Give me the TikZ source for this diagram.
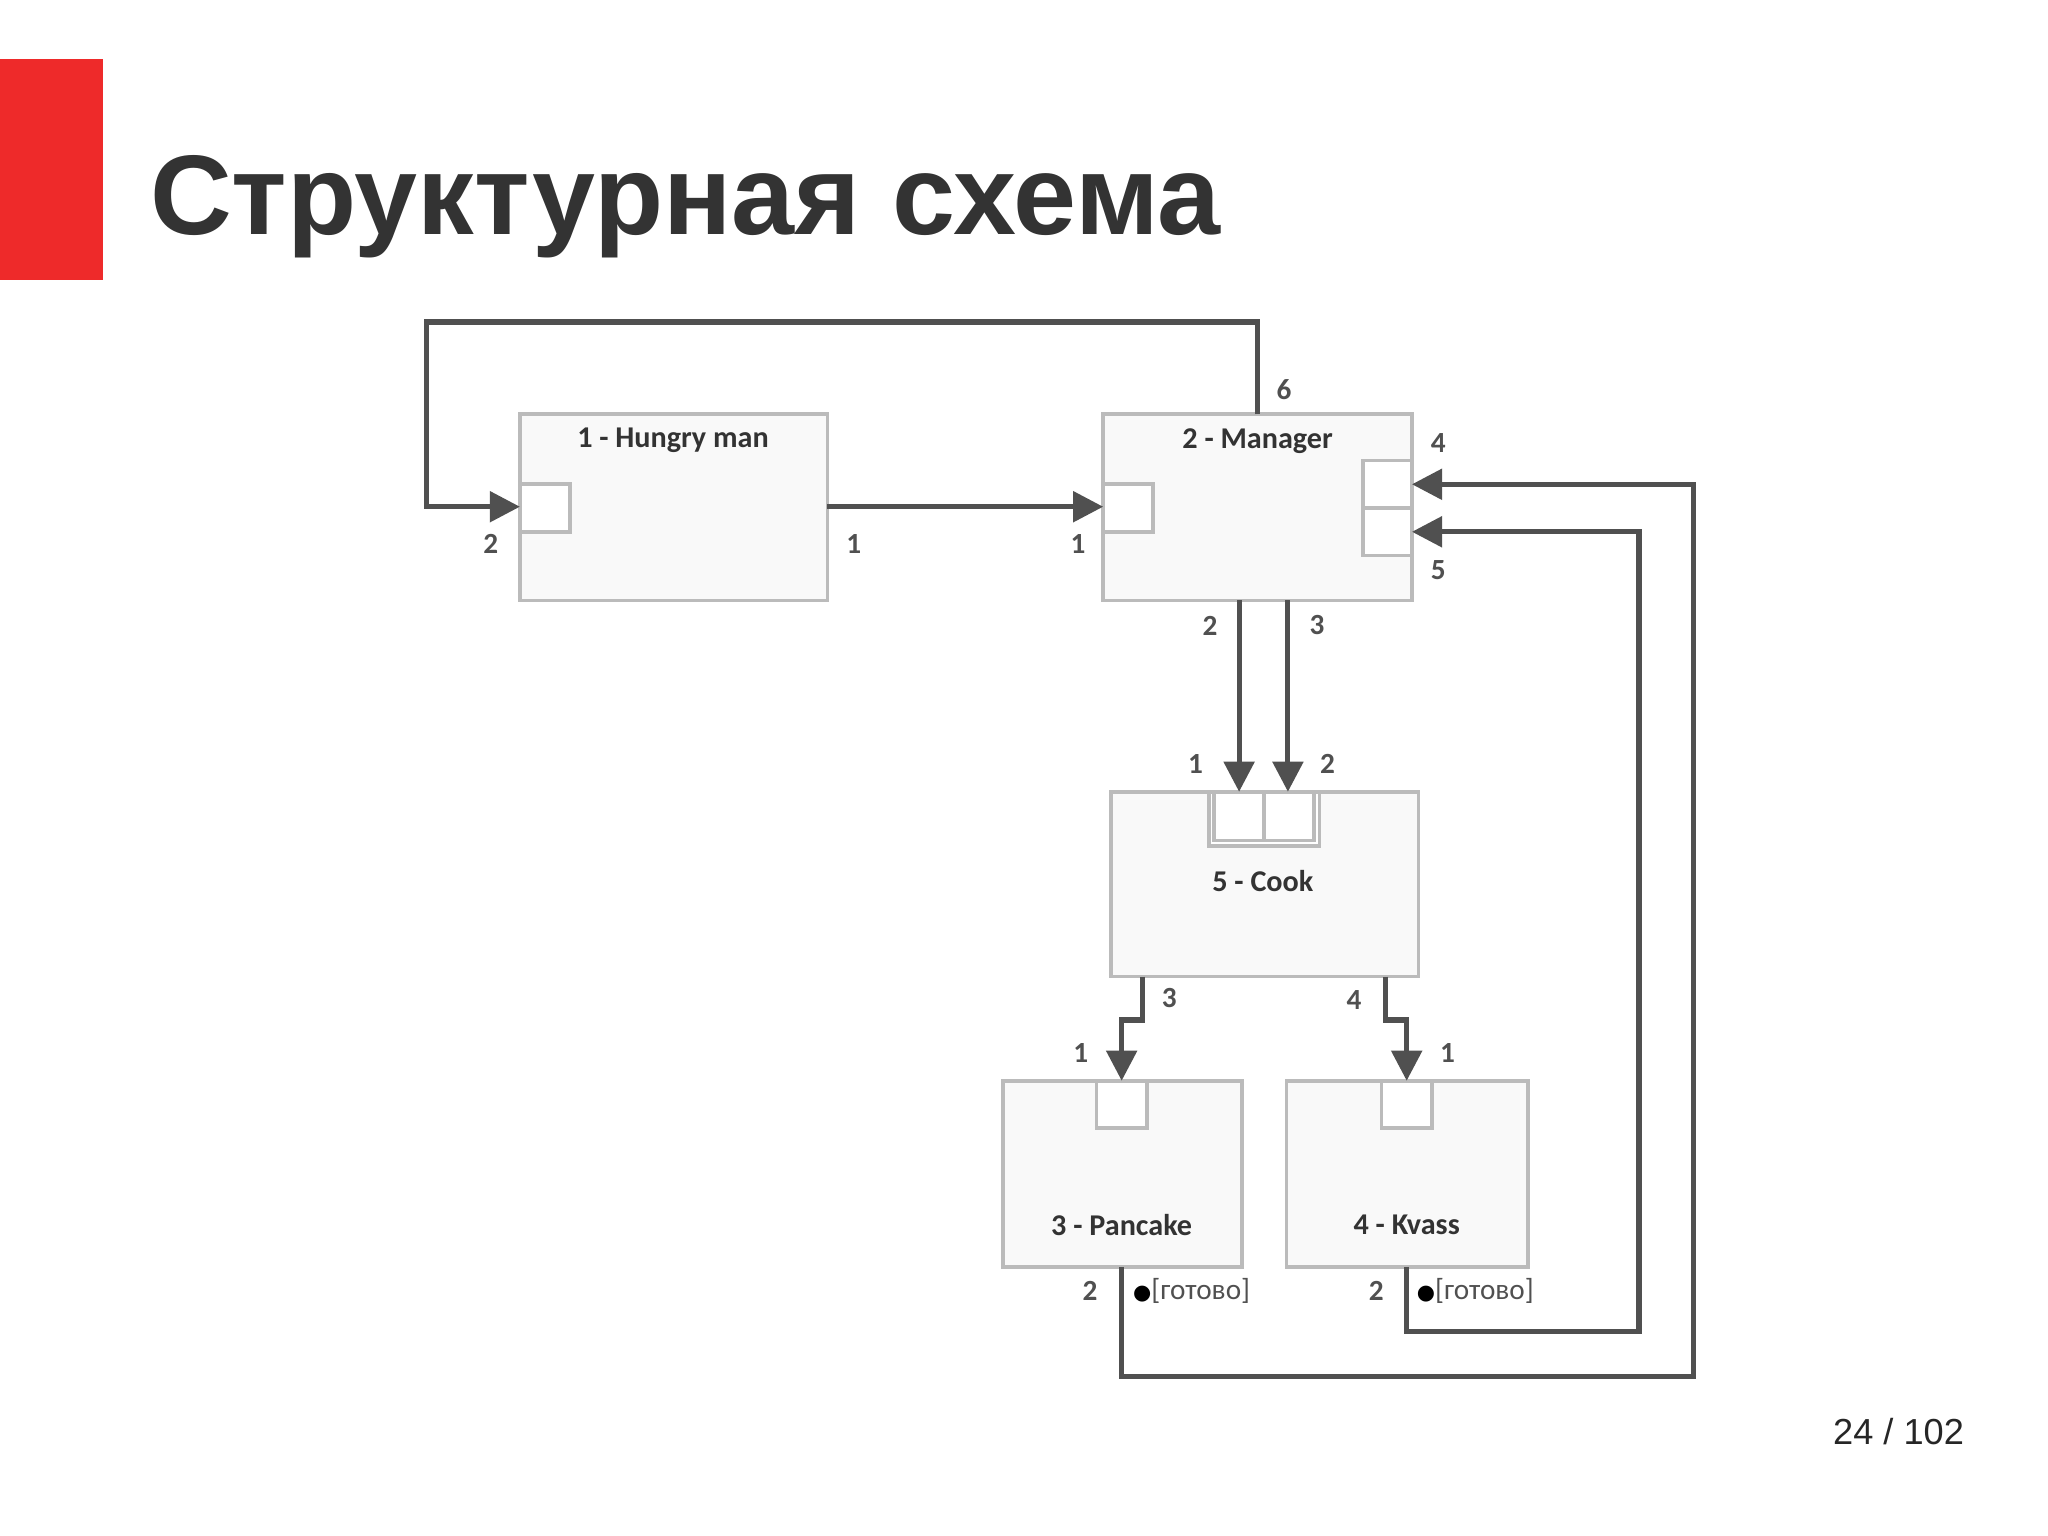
\documentclass[tikz,border=0pt]{standalone}
\usepackage{fontspec}
\setmainfont{Liberation Sans}
\newfontfamily\carlitofont{Carlito}
\newfontfamily\dejavufont{DejaVu Sans}
\usetikzlibrary{arrows.meta}
\definecolor{redbar}{HTML}{EE2A2A}
\definecolor{ln}{HTML}{505050}
\definecolor{bx}{HTML}{BBBBBB}
\begin{document}
\begin{tikzpicture}[x=0.01cm,y=-0.01cm,
  blk/.style={draw=bx,line width=0.8pt,fill=gray!5},
  prt/.style={draw=bx,line width=0.8pt,fill=white},
  con/.style={draw=ln,line width=1.1pt},
  arr/.style={con,-{Triangle[length=6.5pt,width=6.5pt]}},
  lb/.style={font=\carlitofont\bfseries\fontsize{6.3}{7}\selectfont,text=ln,inner sep=0},
  ttl/.style={font=\carlitofont\bfseries\fontsize{6.5}{7}\selectfont,text=black!80,inner sep=0}]
\useasboundingbox (0,0) rectangle (1552,1164);
\fill[redbar] (0,45) rectangle (78,212);
\node[anchor=base west,inner sep=0,font=\bfseries\fontsize{24.4}{28}\selectfont,text=black!80] (title) at (113,178) {Структурная схема};
\node[anchor=base east,inner sep=0,font=\fontsize{7.8}{9}\selectfont,text=black!85] (pg) at (1489,1095) {24 / 102};
% boxes
\draw[blk] (394,314) rectangle (627,455);
\draw[prt] (394,367) rectangle (432,403); \coordinate (hmin) at (394,384);
\draw[blk] (836,314) rectangle (1070,455);
\draw[prt] (836,367) rectangle (874,403); \coordinate (mgin) at (836,384);
\draw[prt] (1033,349) rectangle (1070,385); \draw[prt] (1033,385) rectangle (1070,421);
\coordinate (mg4) at (1070,367); \coordinate (mg5) at (1070,403);
\draw[blk] (842,600) rectangle (1075,740);
\draw[prt] (916,600) rectangle (1000,641);
\draw[prt] (920,600) rectangle (958,637); \draw[prt] (958,600) rectangle (996,637);
\draw[blk] (760,819) rectangle (941,960);
\draw[prt] (831,819) rectangle (869,855);
\draw[blk] (975,819) rectangle (1158,960);
\draw[prt] (1047,819) rectangle (1085,855);
\node[ttl] (t1) at (510,334) {1 - Hungry man};
\node[ttl] (t2) at (953,334) {2 - Manager};
\node[ttl] (t5) at (957,668) {5 - Cook};
\node[ttl] (t3) at (850,928) {3 - Pancake};
\node[ttl] (t4) at (1066,928) {4 - Kvass};
% connectors
\coordinate (hmout) at (627,384);
\draw[arr] (hmout) -- (mgin);
\coordinate (m6) at (953,314);
\draw[arr] (m6) -- (953,244) -- (323,244) -- (323,384) -- (hmin);
\coordinate (m2) at (939,455); \coordinate (c1) at (939,600);
\coordinate (m3) at (976,455); \coordinate (c2) at (976,600);
\draw[arr] (m2) -- (c1); \draw[arr] (m3) -- (c2);
\coordinate (c3) at (866,740); \coordinate (p1) at (850,819);
\coordinate (c4) at (1050,740); \coordinate (k1) at (1066,819);
\draw[arr] (c3) -- (866,773) -- (850,773) -- (p1);
\draw[arr] (c4) -- (1050,773) -- (1066,773) -- (k1);
\coordinate (p2) at (850,960); \coordinate (k2) at (1066,960);
\draw[arr] (p2) -- (850,1043) -- (1283,1043) -- (1283,367) -- (mg4);
\draw[arr] (k2) -- (1066,1009) -- (1242,1009) -- (1242,403) -- (mg5);
% labels
\node[lb] (l6) at (973,295) {6};
\node[lb] (l4) at (1090,336) {4};
\node[lb] (l5) at (1090,432) {5};
\node[lb] (la) at (372,412) {2};
\node[lb] (lb1) at (647,412) {1};
\node[lb] (lc) at (817,412) {1};
\node[lb] (ld) at (917,474) {2};
\node[lb] (le) at (998,474) {3};
\node[lb] (lf) at (906,579) {1};
\node[lb] (lg) at (1006,579) {2};
\node[lb] (lh) at (886,756) {3};
\node[lb] (li) at (1026,758) {4};
\node[lb] (lj) at (819,798) {1};
\node[lb] (lk) at (1097,798) {1};
\node[lb] (ll) at (826,978) {2};
\node[lb] (lm) at (1043,978) {2};
\node[anchor=west,inner sep=0,font=\carlitofont\fontsize{6.3}{7}\selectfont,text=ln] (g1) at (858,978) {{\dejavufont\fontsize{4.5}{6}\selectfont\color{black}●}[готово]};
\node[anchor=west,inner sep=0,font=\carlitofont\fontsize{6.3}{7}\selectfont,text=ln] (g2) at (1073,978) {{\dejavufont\fontsize{4.5}{6}\selectfont\color{black}●}[готово]};
\end{tikzpicture}
\end{document}
